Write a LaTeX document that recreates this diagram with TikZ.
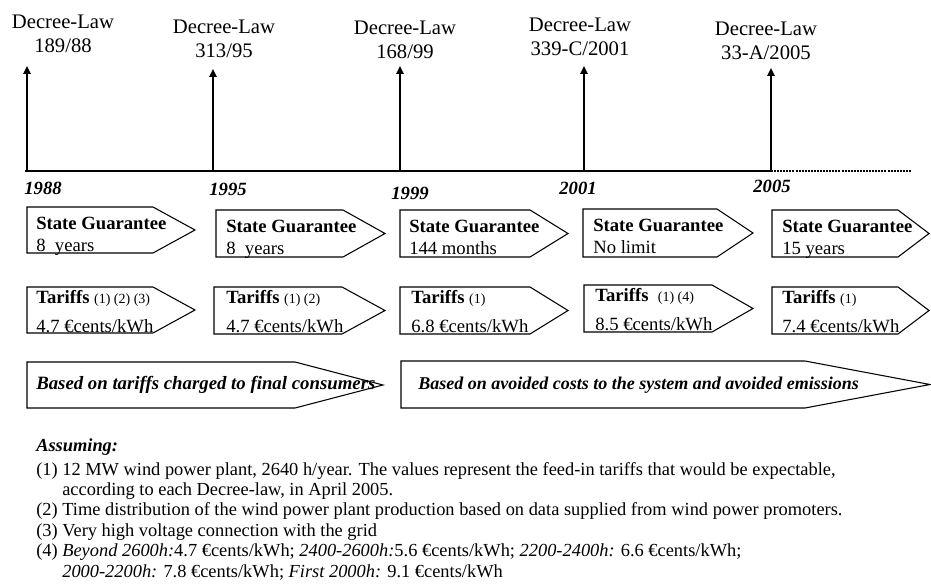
\documentclass[tikz,border=0pt]{standalone}
\usepackage{fontspec}
\setmainfont{Liberation Serif}
\usetikzlibrary{arrows.meta}

\newcommand{\tarref}[1]{{\fontsize{10.5}{12}\selectfont #1}}

\begin{document}
\begin{tikzpicture}[x=0.75pt,y=-0.75pt]
            \tikzset{law/.style={align=center, inner sep=0pt, anchor=north, font=\fontsize{15.5}{17.6}\selectfont},
                     year/.style={inner sep=0pt, anchor=north, font=\fontsize{14}{16}\selectfont\bfseries\itshape},
                     axis/.style={line width=1.5pt},
                     decree/.style={line width=1.5pt, -{Triangle[length=6pt,width=5.5pt]}},
                     tagline/.style={line width=0.8pt, line join=miter},
                     tagtext/.style={align=left, inner sep=0pt, anchor=north west, font=\fontsize{14}{16.5}\selectfont},
                     widetext/.style={inner sep=0pt, anchor=base west, font=\fontsize{13.8}{16}\selectfont\bfseries\itshape},
                     note/.style={align=left, inner sep=0pt, anchor=north west, font=\fontsize{13.8}{15.3}\selectfont}}

            \useasboundingbox (0,0) rectangle (931,585);

            % timeline
            \coordinate (t88) at (27,171);
            \coordinate (t95) at (213,171);
            \coordinate (t99) at (400,171);
            \coordinate (t01) at (584,171);
            \coordinate (t05) at (771,171);
            \coordinate (start) at (25,171);
            \coordinate (future) at (912,171);
            \draw[axis] (start) -- (t05);
            \draw[axis, dash pattern=on 1.5pt off 0.8pt] (t05) -- (future);

            \coordinate (a88) at (27,66);
            \coordinate (a95) at (213,69);
            \coordinate (a99) at (400,66);
            \coordinate (a01) at (584,66);
            \coordinate (a05) at (771,68);
            \draw[decree] (t88) -- (a88);
            \draw[decree] (t95) -- (a95);
            \draw[decree] (t99) -- (a99);
            \draw[decree] (t01) -- (a01);
            \draw[decree] (t05) -- (a05);

            \node[law] (dl88) at (63,15) {Decree-Law\\189/88};
            \node[law] (dl95) at (224,20) {Decree-Law\\313/95};
            \node[law] (dl99) at (405,21) {Decree-Law\\168/99};
            \node[law] (dl01) at (580,18) {Decree-Law\\339-C/2001};
            \node[law] (dl05) at (766,22) {Decree-Law\\33-A/2005};

            \node[year] (y88) at (43,182) {1988};
            \node[year] (y95) at (228,183) {1995};
            \node[year] (y99) at (410,187) {1999};
            \node[year] (y01) at (578,182) {2001};
            \node[year] (y05) at (772,180) {2005};

            % state guarantee
            \draw[tagline] (27,207) -- (153,207) -- (195,230) -- (153,253) -- (27,253) -- cycle;
            \draw[tagline] (216,210) -- (343,210) -- (385,233.5) -- (343,257) -- (216,257) -- cycle;
            \draw[tagline] (400,210) -- (530,210) -- (568,233.5) -- (530,257) -- (400,257) -- cycle;
            \draw[tagline] (583,209) -- (717,209) -- (753,233) -- (717,257) -- (583,257) -- cycle;
            \draw[tagline] (772,210) -- (898,210) -- (929,233.5) -- (898,257) -- (772,257) -- cycle;
            \node[tagtext] (sg88) at (36,217) {\textbf{State Guarantee}\\8\ \ years};
            \node[tagtext] (sg95) at (226,220) {\textbf{State Guarantee}\\8\ \ years};
            \node[tagtext] (sg99) at (409,220) {\textbf{State Guarantee}\\144 months};
            \node[tagtext] (sg01) at (593,219) {\textbf{State Guarantee}\\No limit};
            \node[tagtext] (sg05) at (782,220) {\textbf{State Guarantee}\\15 years};

            % tariffs
            \draw[tagline] (27,287) -- (153,287) -- (195,310) -- (153,333) -- (27,333) -- cycle;
            \draw[tagline] (214,287) -- (342,287) -- (385,310.5) -- (342,334) -- (214,334) -- cycle;
            \draw[tagline] (400,287) -- (530,287) -- (568,310.5) -- (530,334) -- (400,334) -- cycle;
            \draw[tagline] (584,285) -- (712,285) -- (753,308.5) -- (712,332) -- (584,332) -- cycle;
            \draw[tagline] (772,287) -- (898,287) -- (929,310.5) -- (898,334) -- (772,334) -- cycle;
            \node[tagtext] (tf88) at (36,290) {\textbf{Tariffs} \tarref{(1) (2) (3)}\\[5.2pt]4.7 €cents/kWh};
            \node[tagtext] (tf95) at (226,290) {\textbf{Tariffs} \tarref{(1) (2)}\\[5.2pt]4.7 €cents/kWh};
            \node[tagtext] (tf99) at (411,290) {\textbf{Tariffs} \tarref{(1)}\\[5.2pt]6.8 €cents/kWh};
            \node[tagtext] (tf01) at (595,288) {\textbf{Tariffs}\ \ \tarref{(1) (4)}\\[5.2pt]8.5 €cents/kWh};
            \node[tagtext] (tf05) at (782,290) {\textbf{Tariffs} \tarref{(1)}\\[5.2pt]7.4 €cents/kWh};

            % basis of the tariffs
            \draw[tagline] (27,362) -- (295,362) -- (383,385) -- (295,408) -- (27,408) -- cycle;
            \draw[tagline] (401,361) -- (805,361) -- (930,384.5) -- (805,408) -- (401,408) -- cycle;
            \node[widetext, font=\fontsize{14.1}{16}\selectfont\bfseries\itshape] (consumers) at (36,389) {Based on tariffs charged to final consumers};
            \node[widetext, font=\fontsize{13.5}{16}\selectfont\bfseries\itshape] (avoided) at (418,389) {Based on avoided costs to the system and avoided emissions};

            \node[note] (assume) at (36,438) {\textbf{\textit{Assuming:}}\\[2.7pt]
                (1) 12 MW wind power plant, 2640 h/year. The values represent the feed-in tariffs that would be expectable,\\
                \hphantom{(1) }according to each Decree-law, in April 2005.\\
                (2) Time distribution of the wind power plant production based on data supplied from wind power promoters.\\
                (3) Very high voltage connection with the grid\\
                (4) \textit{Beyond 2600h:}4.7 €cents/kWh; \textit{2400-2600h:}5.6 €cents/kWh; \textit{2200-2400h:} 6.6 €cents/kWh;\\
                \hphantom{(4) }\textit{2000-2200h:} 7.8 €cents/kWh; \textit{First 2000h:} 9.1 €cents/kWh};
        \end{tikzpicture}
\end{document}
